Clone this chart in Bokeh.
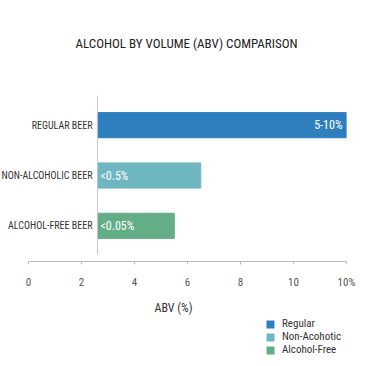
from bokeh.plotting import figure
from bokeh.models import (ColumnDataSource, Legend, LegendItem, Range1d, Span,
                          FactorRange, FixedTicker, Title)
from bokeh.layouts import column
from bokeh.embed import file_html
from bokeh.resources import INLINE
from bokeh.core.properties import value

# ---- data ----
categories = ["ALCOHOL-FREE BEER", "NON-ALCOHOLIC BEER", "REGULAR BEER"]
bar_end = [5.5, 6.5, 12.0]
bar_labels = ["<0.05%", "<0.5%", "5-10%"]
series = ["Alcohol-Free", "Non-Acohotic", "Regular"]
colors = ["#63AE86", "#6EB7C1", "#2F7FBF"]
baseline = 2.6
x_min, x_max = -1.06, 12
tick_values = [0, 2, 4, 6, 8, 10, 12]
tick_labels = ["0", "2", "4", "6", "8", "10", "10%"]

FONT = "Roboto Condensed"

xr = Range1d(x_min, x_max)

# ---- main chart ----
p = figure(width=359, height=255, output_backend="svg", toolbar_location=None,
           x_range=xr,
           y_range=FactorRange(factors=categories, range_padding=0.06),
           x_axis_type=None, y_axis_type=None,
           min_border_left=0, min_border_right=13, min_border_top=0,
           min_border_bottom=0)
p.outline_line_color = None
p.grid.visible = False
p.background_fill_color = "white"
p.border_fill_color = "white"

# spacer between title and plot area, then the title itself
p.add_layout(Title(text=" ", text_font_size="1px", standoff=9), "above")
p.add_layout(Title(text="ALCOHOL BY VOLUME (ABV) COMPARISON", align="left",
                   offset=75, text_font=FONT, text_font_size="13px",
                   text_font_style="normal", text_color="#222222",
                   standoff=66), "above")

src = ColumnDataSource(dict(cat=categories, end=bar_end, lab=bar_labels,
                            color=colors, series=series,
                            left=[baseline] * len(categories)))
bars = p.hbar(y="cat", left="left", right="end", height=0.5, color="color",
              source=src)

# vertical baseline
p.add_layout(Span(location=baseline, dimension="height", line_color="#c8c8c8",
                  line_width=1))

# category labels
p.text(x="left", y="cat", text="cat", source=src, x_offset=-5,
       text_align="right", text_baseline="middle", text_font=value(FONT),
       text_font_size="10px", text_color="#333333")

# value labels
long_src = ColumnDataSource(dict(x=[bar_end[2]], y=[categories[2]], t=[bar_labels[2]]))
short_src = ColumnDataSource(dict(x=[baseline] * 2, y=categories[:2], t=bar_labels[:2]))
p.text(x="x", y="y", text="t", source=long_src, x_offset=-4, text_align="right",
       text_baseline="middle", text_font=value(FONT), text_font_size="12px",
       text_color="white")
p.text(x="x", y="y", text="t", source=short_src, x_offset=3, text_align="left",
       text_baseline="middle", text_font=value(FONT), text_font_size="12px",
       text_color="white")

# ---- x axis strip ----
pa = figure(width=359, height=62, output_backend="svg", toolbar_location=None,
            x_range=xr, y_range=Range1d(0, 1), y_axis_type=None,
            min_border_left=0, min_border_right=13, min_border_top=0,
            min_border_bottom=50)
pa.outline_line_color = None
pa.grid.visible = False
ax = pa.xaxis[0]
ax.bounds = (0, x_max)
ax.ticker = FixedTicker(ticks=tick_values)
ax.major_label_overrides = {v: l for v, l in zip(tick_values, tick_labels)}
ax.axis_line_color = "#bbbbbb"
ax.major_tick_line_color = "#bbbbbb"
ax.major_tick_in = 0
ax.major_tick_out = 3
ax.minor_tick_line_color = None
ax.major_label_text_font = FONT
ax.major_label_text_font_size = "11px"
ax.major_label_text_color = "#555555"
ax.major_label_standoff = 11
ax.axis_label = "ABV (%)"
ax.axis_label_text_font = FONT
ax.axis_label_text_font_size = "12px"
ax.axis_label_text_font_style = "normal"
ax.axis_label_text_color = "#333333"
ax.axis_label_standoff = 9

# ---- legend strip ----
pl = figure(width=359, height=48, output_backend="svg", toolbar_location=None,
            x_range=Range1d(0, 1), y_range=FactorRange(factors=categories),
            x_axis_type=None, y_axis_type=None,
            min_border_left=0, min_border_right=13, min_border_top=0,
            min_border_bottom=0)
pl.outline_line_color = None
pl.grid.visible = False
# zero-thickness copy of the bars: only used for the legend swatches
lr = pl.hbar(y="cat", left="left", right="end", height=0, fill_color="color",
             line_alpha=0, source=src)
items = [LegendItem(label=series[i], renderers=[lr], index=i) for i in (2, 1, 0)]
legend = Legend(items=items, location=(265, 9), label_text_font=FONT,
                label_text_font_size="11px", label_text_color="#333333",
                glyph_width=10, glyph_height=10, label_height=10,
                label_standoff=7, spacing=0, padding=0, margin=0,
                border_line_color=None, background_fill_alpha=0)
pl.add_layout(legend, "center")

layout = column(p, pa, pl, spacing=0)
open("out.html", "w").write(file_html(layout, INLINE))
